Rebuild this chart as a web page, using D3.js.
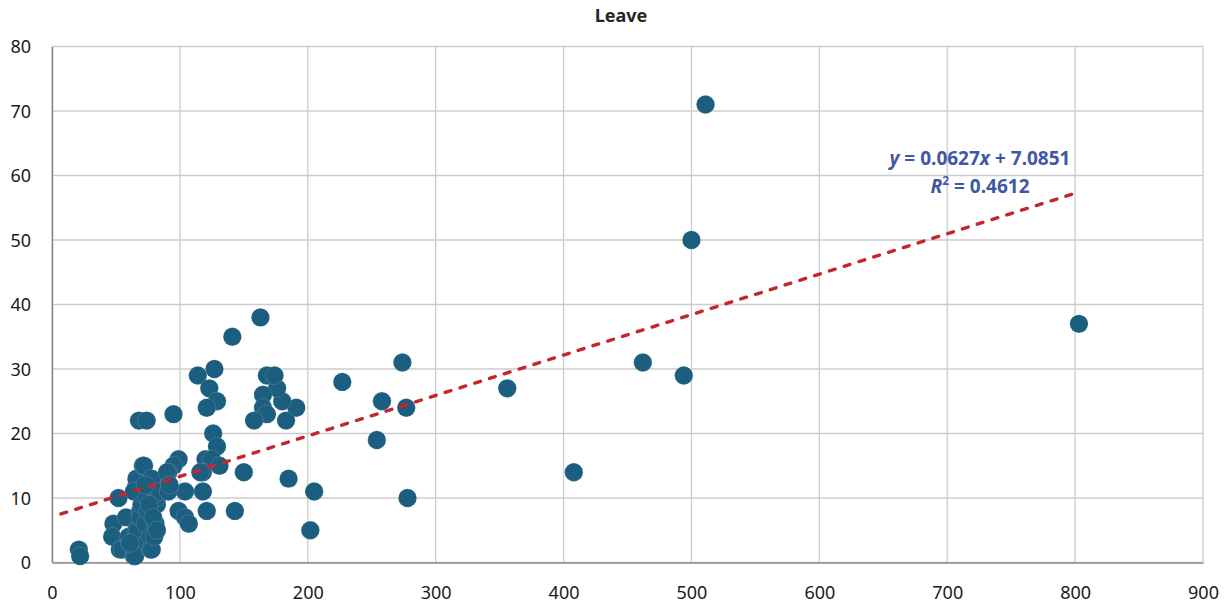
<!DOCTYPE html>
<html>
<head>
<meta charset="utf-8">
<script src="https://cdn.jsdelivr.net/npm/d3@7"></script>
<style>
  html, body { margin: 0; padding: 0; background: #fff; }
  svg { display: block; font-family: "Noto Sans", "Open Sans", sans-serif; }
</style>
</head>
<body>
<svg id="chart" width="1231" height="610"></svg>
<script>
// Scatter data: each x pairs with the Leave value at the same index
const xValues = [
  511, 500, 803, 462, 494, 356, 408, 274, 277, 278,
  258, 254, 227, 205, 202, 185, 191, 183, 180, 176,
  168, 174, 165, 165, 168, 163, 158, 150, 143, 141,
  127, 114, 123, 129, 121, 95, 68, 74, 126, 129,
  120, 125, 131, 118, 116, 118, 104, 99, 95, 91,
  87, 83, 121, 99, 104, 107,
  21, 22, 52, 48, 47, 53, 55, 58, 60, 64,
  65, 66, 67, 66, 66, 64, 69, 69, 71, 72,
  70, 73, 74, 74, 75, 77, 77, 78, 78, 80,
  81, 82, 82, 84, 76, 73, 79, 82, 61, 90,
  91, 92
];
const leaveValues = [
  71, 50, 37, 31, 29, 27, 14, 31, 24, 10,
  25, 19, 28, 11, 5, 13, 24, 22, 25, 27,
  29, 29, 26, 24, 23, 38, 22, 14, 8, 35,
  30, 29, 27, 25, 24, 23, 22, 22, 20, 18,
  16, 16, 15, 14, 14, 11, 11, 16, 15, 14,
  13, 12, 8, 8, 7, 6,
  2, 1, 10, 6, 4, 2, 2, 7, 4, 1,
  1, 5, 5, 12, 13, 11, 8, 7, 15, 15,
  9, 6, 10, 3, 8, 4, 2, 2, 13, 4,
  6, 9, 10, 11, 9, 12, 7, 5, 3, 14,
  11, 12
];

// Axis ticks
const xTicks = [0, 100, 200, 300, 400, 500, 600, 700, 800, 900];
const yTicks = [0, 10, 20, 30, 40, 50, 60, 70, 80];

// Linear trendline as reported on the chart
const trendSlope = 0.0627;
const trendIntercept = 7.0851;
const trendRSquared = 0.4612;
const trendRange = [7, 803];

const chartTitle = "Leave";

const svg = d3.select("#chart");

const x = d3.scaleLinear().domain([0, 900]).range([52, 1203]);
const y = d3.scaleLinear().domain([0, 80]).range([562.5, 46.5]);

// Gridlines
const grid = svg.append("g");
grid.selectAll("line.gx").data(xTicks).join("line")
  .attr("x1", d => x(d)).attr("x2", d => x(d))
  .attr("y1", y(0)).attr("y2", y(80))
  .attr("stroke", "#cccccc").attr("stroke-width", 1.3);
grid.selectAll("line.gy").data(yTicks).join("line")
  .attr("x1", x(0)).attr("x2", x(900))
  .attr("y1", d => y(d)).attr("y2", d => y(d))
  .attr("stroke", "#cccccc").attr("stroke-width", 1.3);

// Axes
const xAxis = svg.append("g")
  .attr("transform", `translate(0,${y(0)})`)
  .call(d3.axisBottom(x).tickValues(xTicks).tickSize(0).tickPadding(24));
const yAxis = svg.append("g")
  .attr("transform", `translate(${x(0)},0)`)
  .call(d3.axisLeft(y).tickValues(yTicks).tickSize(0).tickPadding(21));
[xAxis, yAxis].forEach(a => {
  a.select(".domain").attr("stroke", "#8c8c8c").attr("stroke-width", 1.5);
  a.selectAll("text")
    .attr("font-family", "'Noto Sans', sans-serif")
    .attr("font-size", 18)
    .attr("fill", "#1a1a1a");
});
yAxis.selectAll("text").attr("dy", "0.34em");

// Points
svg.append("g").selectAll("circle")
  .data(d3.range(xValues.length))
  .join("circle")
  .attr("cx", i => x(xValues[i]))
  .attr("cy", i => y(leaveValues[i]))
  .attr("r", 9.2)
  .attr("fill", "#1b5e7f")
  .attr("stroke", "rgba(255,255,255,0.25)")
  .attr("stroke-width", 0.6);

// Trendline
const trendLine = d3.line()
  .x(d => x(d))
  .y(d => y(trendSlope * d + trendIntercept));
svg.append("path")
  .datum(trendRange)
  .attr("d", trendLine)
  .attr("fill", "none")
  .attr("stroke", "#c4262e")
  .attr("stroke-width", 3.4)
  .attr("stroke-linecap", "round")
  .attr("stroke-dasharray", "6,9.5");

// Trendline equation and R²
const eq = svg.append("text")
  .attr("x", 980).attr("y", 165)
  .attr("text-anchor", "middle")
  .attr("font-size", 19).attr("font-weight", 700)
  .attr("fill", "#3f58a6");
eq.append("tspan").attr("font-style", "italic").text("y");
eq.append("tspan").text(` = ${trendSlope}`);
eq.append("tspan").attr("font-style", "italic").text("x");
eq.append("tspan").text(` + ${trendIntercept}`);

const r2 = svg.append("text")
  .attr("x", 980).attr("y", 193)
  .attr("text-anchor", "middle")
  .attr("font-size", 19).attr("font-weight", 700)
  .attr("fill", "#3f58a6");
r2.append("tspan").attr("font-style", "italic").text("R");
r2.append("tspan").attr("font-size", 12).attr("dy", -8).text("2");
r2.append("tspan").attr("dy", 8).text(` = ${trendRSquared}`);

// Title
svg.append("text")
  .attr("x", 621).attr("y", 22)
  .attr("text-anchor", "middle")
  .attr("font-size", 18).attr("font-weight", 700)
  .attr("fill", "#262626")
  .text(chartTitle);
</script>
</body>
</html>
